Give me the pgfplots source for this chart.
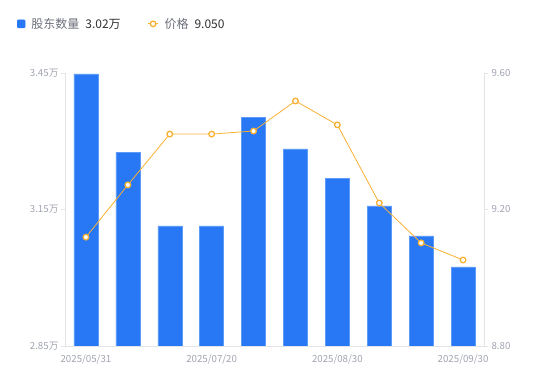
\documentclass[border=0pt]{standalone}
\usepackage{fontspec}
\setmainfont{Noto Sans CJK SC}
\usepackage{pgfplots}
\pgfplotsset{compat=1.18}
\definecolor{barblue}{HTML}{2878F5}
\definecolor{baredge}{HTML}{5C9BF8}
\definecolor{lineorange}{HTML}{F8B032}
\definecolor{ticktext}{HTML}{A0A4B0}
\definecolor{axisgray}{HTML}{E2E4E8}
\definecolor{legtext}{HTML}{6B6F7A}
\definecolor{valtext}{HTML}{303133}
\pgfplotsset{
  shortline legend/.style={legend image code/.code={\draw[mark repeat=2, mark phase=2, ##1] plot coordinates {(0pt,0pt) (5pt,0pt) (10pt,0pt)};}},
}
\begin{document}
\begin{tikzpicture}[x=1pt,y=1pt]
\useasboundingbox (0,0) rectangle (550,381);
\pgfplotsset{
  common/.style={
    at={(65pt,35pt)}, anchor=south west,
    scale only axis, width=419pt, height=273pt,
    xmin=-0.5, xmax=9.5,
    xtick={0,3,6,9},
    xticklabels={2025/05/31,2025/07/20,2025/08/30,2025/09/30},
    tick label style={font=\fontsize{9.7}{10}\selectfont, text=ticktext},
    axis line style={draw=axisgray, line width=0.8pt},
    tick align=outside, major tick length=4pt,
    tick style={draw=axisgray, line width=0.8pt},
    x tick style={draw=none},
    xticklabel style={yshift=-1pt},
    grid=none,
  }
}
\begin{axis}[common,
  axis x line*=bottom, axis y line*=left,
  ymin=2.85, ymax=3.45,
  ytick={2.85,3.15,3.45},
  yticklabels={2.85万,3.15万,3.45万},
  yticklabel style={xshift=1pt},
]
\addplot[ybar, bar width=24pt, fill=barblue, draw=baredge, line width=0.5pt]
  coordinates {(0,3.448) (1,3.276) (2,3.114) (3,3.114) (4,3.353)
               (5,3.283) (6,3.219) (7,3.158) (8,3.092) (9,3.024)};
\node[text=ticktext, font=\fontsize{10}{11}\selectfont, anchor=south] at (axis description cs:-0.015,1.035) {户};
\end{axis}
\begin{axis}[common,
  axis x line=none, axis y line*=right,
  ymin=8.8, ymax=9.6,
  ytick={8.8,9.2,9.6},
  yticklabels={8.80,9.20,9.60},
  legend style={at={(-0.115,1.18)}, anchor=west, draw=none, fill=none,
    inner sep=0pt, legend columns=2, font=\fontsize{12}{13}\selectfont, text=valtext,
    nodes={inner xsep=0pt},
    /tikz/every odd column/.append style={column sep=6pt},
    /tikz/every even column/.append style={column sep=27pt}},
  legend cell align=left,
]
\addlegendimage{legend image code/.code={\fill[barblue, rounded corners=1pt] (0pt,-4pt) rectangle (8pt,4pt);}}
\addlegendentry{{\color{legtext}股东数量}\hspace{6pt}3.02万}
\addplot[color=lineorange, line width=0.8pt, mark=*, mark size=2.8pt,
  mark options={fill=white, draw=lineorange, line width=1.3pt},
  shortline legend]
  coordinates {(0,9.119) (1,9.272) (2,9.421) (3,9.421) (4,9.430)
               (5,9.518) (6,9.448) (7,9.219) (8,9.102) (9,9.052)};
\addlegendentry{{\color{legtext}价格}\hspace{6pt}9.050}
\node[text=ticktext, font=\fontsize{10}{11}\selectfont, anchor=south] at (axis description cs:1.015,1.035) {元};
\end{axis}
\end{tikzpicture}
\end{document}
